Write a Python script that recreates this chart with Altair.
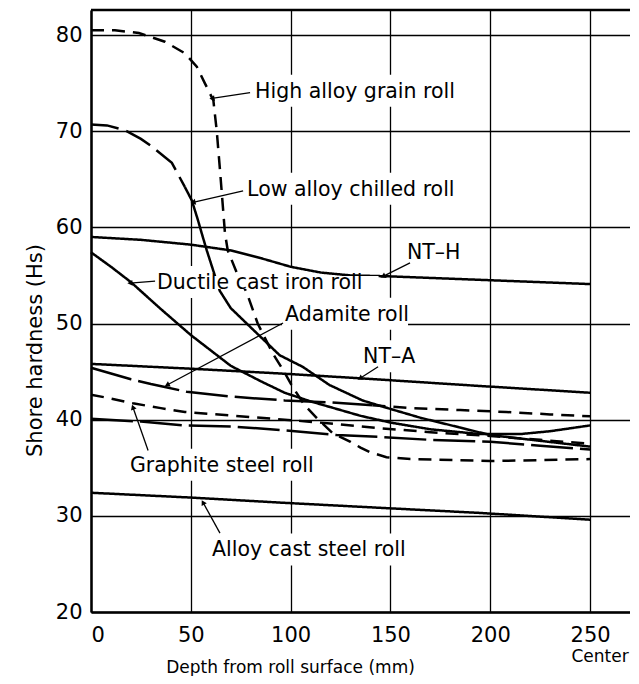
import math
import altair as alt
import pandas as pd

# ---------------- data ----------------
nth_x = [0, 25, 50, 70, 85, 100, 115, 130, 150, 200, 250]
nth_y = [59.0, 58.7, 58.2, 57.6, 56.8, 55.9, 55.3, 55.0, 54.9, 54.5, 54.1]

high_x = [0, 12, 24, 37, 47, 53, 57, 61.3, 63, 64.6, 67.1, 68.5, 73, 78, 83.5, 91, 97,
          101, 107, 113, 121, 130, 135, 140, 148, 160, 200, 250]
high_y = [80.5, 80.5, 80.2, 79.3, 78.1, 76.7, 75.0, 73.2, 70.0, 66.0, 59.4, 57.6, 55.3,
          53.2, 50.0, 46.9, 44.9, 43.4, 41.5, 40.2, 38.6, 37.7, 37.1, 36.6, 36.1, 35.9, 35.7, 35.9]

low1_x = [0, 8, 17, 25, 30.5, 40.5, 47]
low1_y = [70.7, 70.6, 70.1, 69.2, 68.4, 66.7, 64.2]
low2_x = [47, 50.5, 53.5, 56, 58, 64.5, 70, 76, 83, 94.5, 106, 119.5, 136, 147, 165,
          184.5, 200, 225, 250]
low2_y = [64.2, 62.8, 60.8, 59.0, 57.6, 53.4, 51.6, 50.4, 49.0, 46.7, 45.5, 43.6, 42.0,
          41.3, 40.2, 39.2, 38.4, 37.8, 37.2]

duct_x = [0, 10, 20, 35, 50, 70, 85, 97, 110, 120, 135, 150, 170, 195, 215, 230, 250]
duct_y = [57.4, 55.9, 54.3, 51.5, 48.8, 45.6, 44.0, 42.8, 41.9, 41.3, 40.4, 39.7, 39.0,
          38.5, 38.5, 38.8, 39.4]

adam1_x = [0, 10, 20, 30, 37, 48, 70, 97, 120, 141]
adam1_y = [45.4, 44.8, 44.2, 43.7, 43.4, 42.9, 42.4, 42.0, 41.8, 41.5]
adam2_x = [141, 160, 185, 208, 230, 250]
adam2_y = [41.5, 41.2, 41.0, 40.8, 40.55, 40.35]

nta_x = [0, 50, 95, 135, 195, 250]
nta_y = [45.8, 45.3, 44.8, 44.3, 43.5, 42.8]

graph_x = [0, 10, 21, 35, 47, 72, 97, 120, 145, 170, 200, 225, 250]
graph_y = [42.6, 42.2, 41.7, 41.2, 40.8, 40.4, 40.0, 39.6, 39.1, 38.7, 38.3, 37.9, 37.5]

other_x = [0, 25, 47, 70, 97, 123, 145, 170, 200, 225, 250]
other_y = [40.1, 39.8, 39.4, 39.3, 38.9, 38.4, 38.2, 37.9, 37.7, 37.3, 36.9]

acs_x = [0, 50, 97, 148, 195, 250]
acs_y = [32.4, 31.9, 31.35, 30.8, 30.3, 29.6]

x_ticks = [0, 50, 100, 150, 200, 250]
y_ticks = [20, 30, 40, 50, 60, 70, 80]

label_text = ["High alloy grain roll", "Low alloy chilled roll", "NT\u2013H",
              "Ductile cast iron roll", "Adamite roll", "NT\u2013A",
              "Graphite steel roll", "Alloy cast steel roll"]
label_x = [82.2, 78.2, 158.3, 33.1, 97.2, 136.3, 19.5, 60.6]
label_y = [74.1, 63.9, 57.3, 54.2, 50.9, 46.5, 35.2, 26.4]
arrow_x1 = [79.7, 76.2, 159.8, 32.1, 96.2, 143.8, 28.6, 64.6]
arrow_y1 = [74.0, 63.8, 56.3, 54.4, 50.05, 45.5, 36.8, 28.2]
arrow_x2 = [60.6, 51.1, 146.3, 19.5, 38.1, 134.8, 21.0, 56.1]
arrow_y2 = [73.4, 62.6, 54.9, 54.2, 43.6, 44.3, 41.3, 31.4]

# ---------------- geometry ----------------
W, H = 539, 602
XD = [0, 270]
YD = [20, 82.6]
PX = W / (XD[1] - XD[0])
PY = H / (YD[1] - YD[0])
FONT = "DejaVu Sans"
LFS = 20.5

rows = []
def add(name, style, xs, ys):
    for i, (x, y) in enumerate(zip(xs, ys)):
        rows.append(dict(seg=name, style=style, x=x, y=y, o=i))

add("high", "dash", high_x, high_y)
add("low1", "long", low1_x, low1_y)
add("low2", "solid", low2_x, low2_y)
add("nth", "solid", nth_x, nth_y)
add("duct", "solid", duct_x, duct_y)
add("adam1", "vlong", adam1_x, adam1_y)
add("adam2", "dash", adam2_x, adam2_y)
add("nta", "solid", nta_x, nta_y)
add("graph", "dash", graph_x, graph_y)
add("other", "vlong", other_x, other_y)
add("acs", "solid", acs_x, acs_y)
curves = pd.DataFrame(rows)

lab = pd.DataFrame(dict(t=label_text, x=label_x, y=label_y))
wpx = lab["t"].str.len() * LFS * 0.5
# large white boxes behind labels (break the vertical grid like the original)
lab["bx1"] = lab["x"] - 3 / PX
lab["bx2"] = lab["x"] + wpx / PX
lab["by1"] = lab["y"] - 15 / PY
lab["by2"] = lab["y"] + 17 / PY
# tight boxes that clear curves under the text
lab["tx1"] = lab["x"] - 2 / PX
lab["tx2"] = lab["x"] + (wpx - 4) / PX
lab["ty1"] = lab["y"] - 6 / PY
lab["ty2"] = lab["y"] + 7 / PY

arr = pd.DataFrame(dict(x1=arrow_x1, y1=arrow_y1, x2=arrow_x2, y2=arrow_y2))
arr["ang"] = [
    (math.degrees(math.atan2((b - a) * PX, (d - c) * PY)) + 360) % 360
    for a, b, c, d in zip(arr.x1, arr.x2, arr.y1, arr.y2)
]

xs = alt.Scale(domain=XD, nice=False, zero=False)
ys = alt.Scale(domain=YD, nice=False, zero=False)

xax = alt.Axis(values=x_ticks, grid=True, gridColor="black", gridWidth=1.3, gridOpacity=1,
               domainColor="black", domainWidth=2.5, ticks=False, labelPadding=12,
               labelFont=FONT, labelFontSize=21, labelColor="black",
               title="Depth from roll surface  (mm)", titleFont=FONT, titleFontSize=17,
               titleFontWeight="normal", titleColor="black", titleX=199, titleY=55,
               titleBaseline="middle", titleAlign="center")
yax = alt.Axis(values=y_ticks, grid=True, gridColor="black", gridWidth=1.3, gridOpacity=1,
               domainColor="black", domainWidth=2.5, ticks=False, labelPadding=9,
               labelFont=FONT, labelFontSize=21, labelColor="black",
               title="Shore hardness  (Hs)", titleFont=FONT, titleFontSize=21,
               titleFontWeight="normal", titleColor="black", titleX=-56, titleY=340,
               titleAngle=270, titleBaseline="middle", titleAlign="center")

base_axes = alt.Chart(pd.DataFrame(dict(x=[0], y=[20]))).mark_point(opacity=0).encode(
    x=alt.X("x:Q", scale=xs, axis=xax), y=alt.Y("y:Q", scale=ys, axis=yax))

top = alt.Chart(pd.DataFrame(dict(y=[YD[1]]))).mark_rule(color="black", strokeWidth=2.5).encode(
    y=alt.Y("y:Q", scale=ys))

boxes = alt.Chart(lab).mark_rect(color="white").encode(
    x=alt.X("bx1:Q", scale=xs), x2="bx2:Q", y=alt.Y("by1:Q", scale=ys), y2="by2:Q")

tight = alt.Chart(lab).mark_rect(color="white").encode(
    x=alt.X("tx1:Q", scale=xs), x2="tx2:Q", y=alt.Y("ty1:Q", scale=ys), y2="ty2:Q")

lines = alt.Chart(curves).mark_line(color="black", strokeWidth=2.5).encode(
    x=alt.X("x:Q", scale=xs),
    y=alt.Y("y:Q", scale=ys),
    detail="seg:N",
    order="o:Q",
    strokeDash=alt.StrokeDash("style:N", legend=None, scale=alt.Scale(
        domain=["solid", "dash", "long", "vlong"],
        range=[[1, 0], [13, 8], [28, 8], [42, 7]])),
)

arrows = alt.Chart(arr).mark_rule(color="black", strokeWidth=1.3).encode(
    x=alt.X("x1:Q", scale=xs), y=alt.Y("y1:Q", scale=ys), x2="x2:Q", y2="y2:Q")
heads = alt.Chart(arr).mark_point(shape="triangle-up", filled=True, color="black",
                                  size=35, opacity=1).encode(
    x=alt.X("x2:Q", scale=xs), y=alt.Y("y2:Q", scale=ys), angle=alt.Angle("ang:Q", scale=None))

texts = alt.Chart(lab).mark_text(align="left", baseline="middle", font=FONT, fontSize=LFS,
                                 color="black").encode(
    x=alt.X("x:Q", scale=xs), y=alt.Y("y:Q", scale=ys), text="t:N")

center = alt.Chart(pd.DataFrame(dict(x=[255], y=[15.3], t=["Center"]))).mark_text(
    align="center", baseline="middle", font=FONT, fontSize=17, color="black", clip=False).encode(
    x=alt.X("x:Q", scale=xs), y=alt.Y("y:Q", scale=ys), text="t:N")

chart = alt.layer(base_axes, boxes, top, lines, tight, arrows, heads, texts, center).properties(
    width=W, height=H,
    autosize=alt.AutoSizeParams(type="none"),
    padding={"left": 83, "top": 2, "right": 0, "bottom": 64},
).configure_view(stroke=None).configure(background="white")

chart.save("out.html", embed_options={"renderer": "svg", "actions": False})
